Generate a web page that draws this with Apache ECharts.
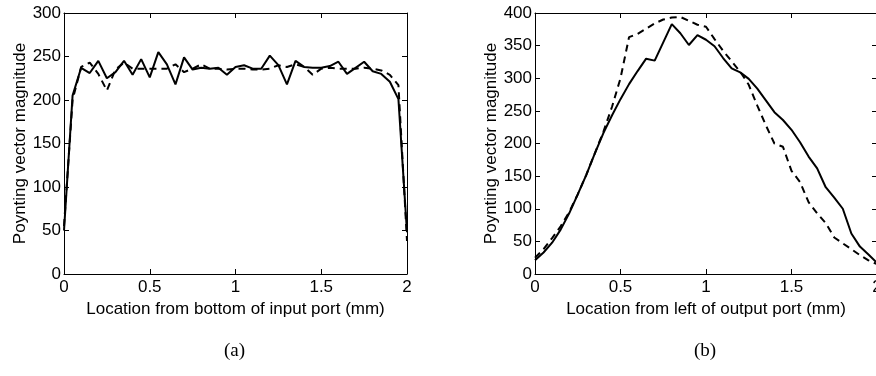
<!DOCTYPE html>
<html>
<head>
<meta charset="utf-8">
<script src="https://cdn.jsdelivr.net/npm/echarts@6/dist/echarts.min.js"></script>
<style>
  html, body { margin: 0; padding: 0; background: #fff; }
  #chart { width: 876px; height: 376px; }
</style>
</head>
<body>
<div id="chart"></div>
<script>
// Sample locations along each port (mm)
const positions = [0, 0.05, 0.1, 0.15, 0.2, 0.25, 0.3, 0.35, 0.4, 0.45, 0.5, 0.55, 0.6, 0.65, 0.7, 0.75, 0.8, 0.85, 0.9, 0.95, 1, 1.05, 1.1, 1.15, 1.2, 1.25, 1.3, 1.35, 1.4, 1.45, 1.5, 1.55, 1.6, 1.65, 1.7, 1.75, 1.8, 1.85, 1.9, 1.95, 2];

// (a) input port
const inputSolid = [50, 205, 237, 231, 245, 225, 232, 245, 229, 247, 226, 255, 241, 218, 249, 235, 237, 236, 237, 229, 238, 240, 236, 236, 251, 240, 218, 245, 238, 237, 237, 239, 244, 230, 237, 244, 233, 230, 221, 201, 48];
const inputDashed = [55, 200, 238, 243, 230, 211, 235, 243, 236, 236, 236, 236, 236, 241, 232, 236, 241, 236, 236, 235, 236, 236, 235, 235, 236, 240, 238, 241, 238, 229, 236, 237, 236, 236, 236, 237, 236, 234, 229, 217, 38];

// (b) output port
const outputSolid = [21, 33, 48, 68, 93, 122, 152, 185, 216, 243, 268, 291, 311, 330, 327, 355, 383, 369, 351, 366, 359, 349, 331, 315, 309, 299, 284, 266, 248, 236, 221, 202, 180, 162, 133, 117, 100, 62, 42, 30, 17];
const outputDashed = [25, 38, 55, 73, 95, 122, 152, 185, 218, 256, 300, 363, 368, 376, 384, 390, 393, 394, 388, 382, 379, 360, 342, 326, 310, 290, 258, 228, 200, 195, 158, 141, 110, 93, 78, 56, 47, 38, 29, 21, 15];

const xTicks = { min: 0, max: 2, interval: 0.5 };
const yMaxA = 300, yMaxB = 400, yStep = 50;
const yTitle = 'Poynting vector magnitude';
const xTitleA = 'Location from bottom of input port (mm)';
const xTitleB = 'Location from left of output port (mm)';
const captions = ['(a)', '(b)'];

const FONT = 'Liberation Sans';
const INK = '#000';
const FS = 17;

function pairs(ys) { return positions.map((x, i) => [x, ys[i]]); }

function xAxisDef(grid, pos, name) {
  const main = pos === 'bottom';
  return {
    type: 'value', gridIndex: grid, position: pos,
    min: xTicks.min, max: xTicks.max, interval: xTicks.interval,
    name: main ? name : '', nameLocation: 'middle', nameGap: 20,
    nameTextStyle: { fontFamily: FONT, fontSize: FS, color: INK },
    axisLine: { show: true, onZero: false, lineStyle: { color: INK, width: 1 } },
    axisTick: { show: true, inside: true, length: 5, lineStyle: { color: INK } },
    axisLabel: { show: main, fontFamily: FONT, fontSize: FS, color: INK, margin: 5 },
    splitLine: { show: false }
  };
}

function yAxisDef(grid, pos, max, gap) {
  const main = pos === 'left';
  return {
    type: 'value', gridIndex: grid, position: pos,
    min: 0, max: max, interval: yStep,
    name: main ? yTitle : '', nameLocation: 'middle', nameGap: gap, nameRotate: 90,
    nameTextStyle: { fontFamily: FONT, fontSize: FS, color: INK },
    axisLine: { show: true, onZero: false, lineStyle: { color: INK, width: 1 } },
    axisTick: { show: true, inside: true, length: 5, lineStyle: { color: INK } },
    axisLabel: { show: main, fontFamily: FONT, fontSize: FS, color: INK, margin: 3 },
    splitLine: { show: false }
  };
}

function lineSeries(x, y, ys, dashed) {
  return {
    type: 'line', xAxisIndex: x, yAxisIndex: y, data: pairs(ys),
    symbol: 'none', silent: true,
    lineStyle: { color: INK, width: 2, type: dashed ? [7, 5] : 'solid' }
  };
}

const chart = echarts.init(document.getElementById('chart'), null, { renderer: 'canvas' });
chart.setOption({
  animation: false,
  backgroundColor: '#fff',
  grid: [
    { left: 64, top: 13, width: 343, height: 261, outerBoundsMode: 'none' },
    { left: 535, top: 13, width: 342, height: 261, outerBoundsMode: 'none' }
  ],
  xAxis: [
    xAxisDef(0, 'bottom', xTitleA),
    xAxisDef(0, 'top'),
    xAxisDef(1, 'bottom', xTitleB),
    xAxisDef(1, 'top')
  ],
  yAxis: [
    yAxisDef(0, 'left', yMaxA, 35),
    yAxisDef(0, 'right', yMaxA, 0),
    yAxisDef(1, 'left', yMaxB, 34),
    yAxisDef(1, 'right', yMaxB, 0)
  ],
  series: [
    lineSeries(0, 0, inputDashed, true),
    lineSeries(0, 0, inputSolid, false),
    lineSeries(2, 2, outputDashed, true),
    lineSeries(2, 2, outputSolid, false)
  ],
  graphic: [
    { type: 'text', left: 224, top: 342, style: { text: captions[0], font: '19px "Liberation Serif"', fill: INK } },
    { type: 'text', left: 694, top: 342, style: { text: captions[1], font: '19px "Liberation Serif"', fill: INK } }
  ]
});
</script>
</body>
</html>
